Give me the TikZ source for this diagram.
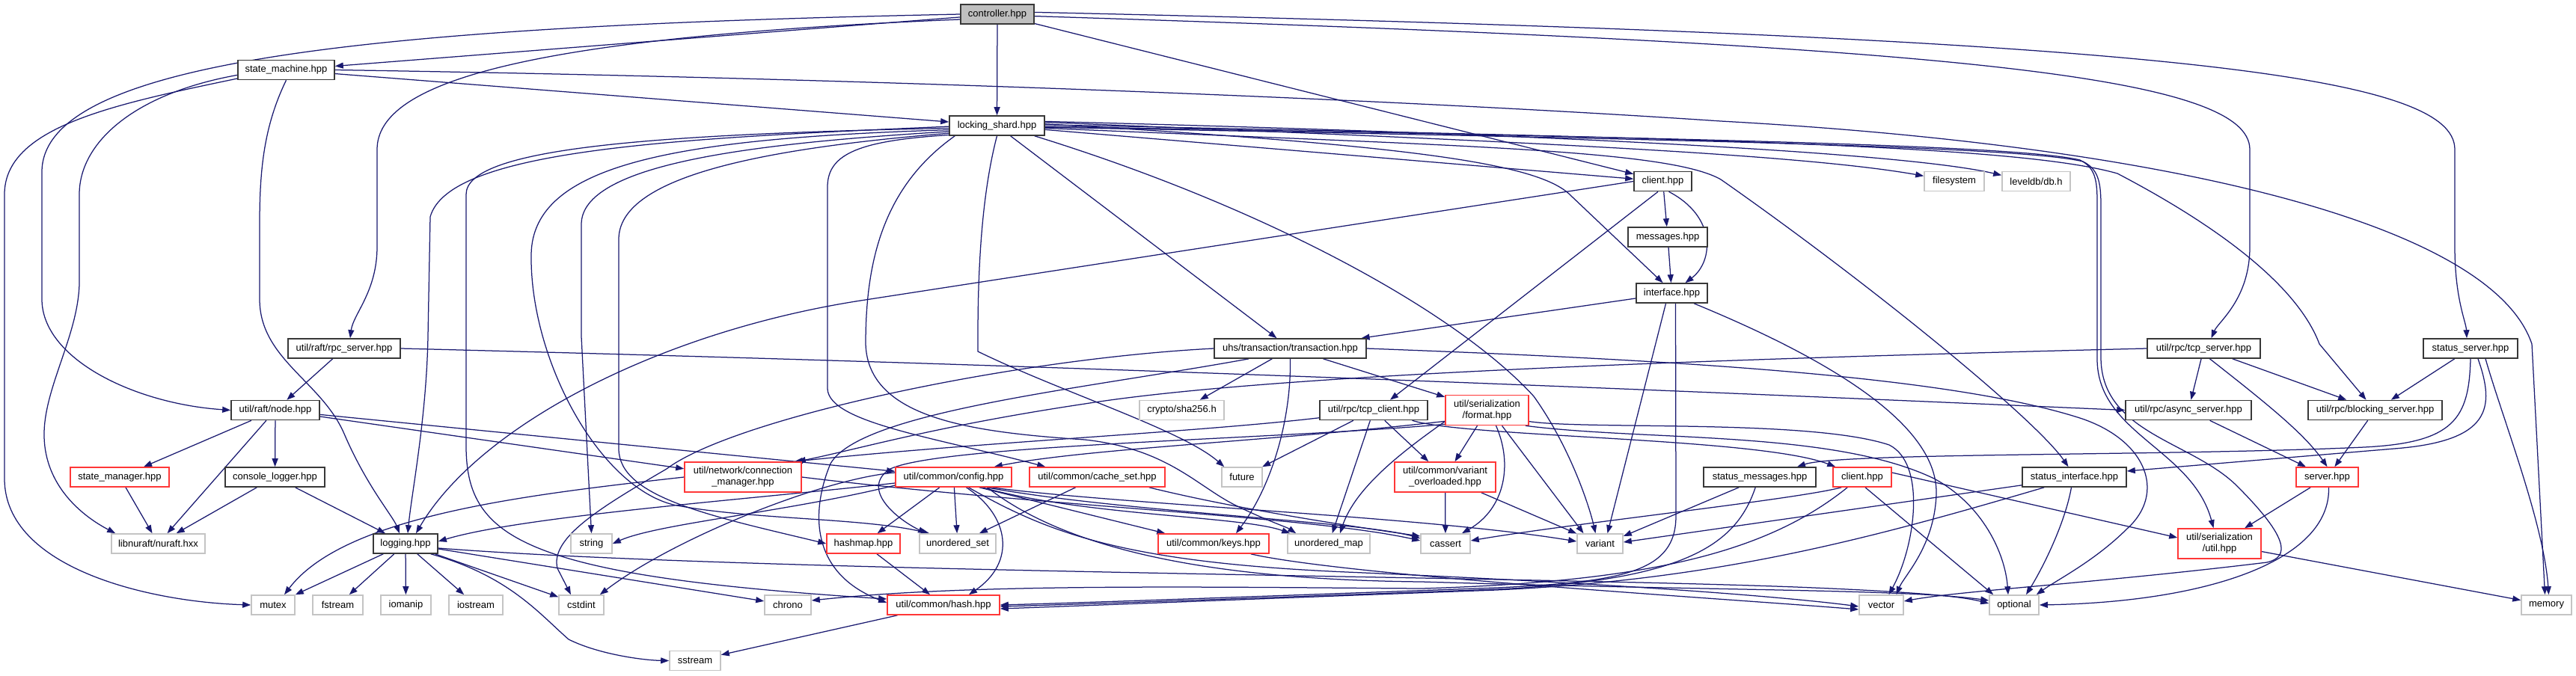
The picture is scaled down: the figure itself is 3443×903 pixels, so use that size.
\documentclass[tikz,border=0pt]{standalone}
\usepackage{fontspec}
\setmainfont{Liberation Sans}
\usetikzlibrary{arrows.meta,calc,backgrounds}
\definecolor{edgeblue}{RGB}{25,25,112}
\definecolor{redb}{RGB}{255,55,55}
\definecolor{grayb}{RGB}{196,196,196}
\definecolor{ctrlfill}{RGB}{191,191,191}
\newcommand\nodefont{\fontsize{13}{15}\selectfont}
\begin{document}
\begin{tikzpicture}[x=1pt,y=-1pt,
  box/.style={draw=black!78, line width=1.6pt, fill=white, minimum height=26pt, inner sep=0pt, font=\nodefont, align=center},
  sys/.style={box, draw=grayb},
  redbox/.style={box, draw=redb},
  tall/.style={minimum height=40pt},
  e/.style={draw=edgeblue, line width=1.25pt, -{Triangle[length=11pt,width=8pt]}}]
\useasboundingbox (0,0) rectangle (3443,903);
% ---------------- nodes ----------------
\node[box, fill=ctrlfill, minimum width=98pt] (ctrl) at (1333,19) {controller.hpp};
\node[box, minimum width=129pt] (sm) at (382.5,93.5) {state\_machine.hpp};
\node[box, minimum width=127pt] (ls) at (1332.5,168) {locking\_shard.hpp};
\node[box, minimum width=77pt] (cliU) at (2222.5,242.5) {client.hpp};
\node[sys, minimum width=80pt] (fs) at (2612,242.5) {filesystem};
\node[sys, minimum width=91pt] (ldb) at (2721.5,242.5) {leveldb/db.h};
\node[box, minimum width=106pt] (msg) at (2229,317) {messages.hpp};
\node[box, minimum width=95pt] (iface) at (2234.5,392) {interface.hpp};
\node[box, minimum width=150pt] (rpc) at (460,466) {util/raft/rpc\_server.hpp};
\node[box, minimum width=203pt] (tx) at (1724.5,466) {uhs/transaction/transaction.hpp};
\node[box, minimum width=151pt] (tcpS) at (2945.5,466) {util/rpc/tcp\_server.hpp};
\node[box, minimum width=126pt] (stS) at (3302,466) {status\_server.hpp};
\node[box, minimum width=118pt] (node) at (368,548.5) {util/raft/node.hpp};
\node[sys, minimum width=113pt] (sha) at (1579.5,548.5) {crypto/sha256.h};
\node[box, minimum width=144pt] (tcpC) at (1836,548.5) {util/rpc/tcp\_client.hpp};
\node[redbox, tall, minimum width=111pt] (fmt) at (1987.5,548.5) {util/serialization\\/format.hpp};
\node[box, minimum width=168pt] (aS) at (2925,548.5) {util/rpc/async\_server.hpp};
\node[box, minimum width=179pt] (bS) at (3174.5,548.5) {util/rpc/blocking\_server.hpp};
\node[redbox, minimum width=132pt] (stm) at (160,638) {state\_manager.hpp};
\node[box, minimum width=133pt] (clog) at (367.5,638) {console\_logger.hpp};
\node[redbox, tall, minimum width=156pt] (cm) at (993,638) {util/network/connection\\\_manager.hpp};
\node[redbox, minimum width=155pt] (cfg) at (1274.5,638) {util/common/config.hpp};
\node[redbox, minimum width=181pt] (cs) at (1466.5,638) {util/common/cache\_set.hpp};
\node[sys, minimum width=54pt] (fut) at (1660,638) {future};
\node[redbox, tall, minimum width=135pt] (vo) at (1931.5,638) {util/common/variant\\\_overloaded.hpp};
\node[box, minimum width=150pt] (sMsg) at (2352,638) {status\_messages.hpp};
\node[redbox, minimum width=78pt] (cliR) at (2489,638) {client.hpp};
\node[box, minimum width=139pt] (sIf) at (2772.5,638) {status\_interface.hpp};
\node[redbox, minimum width=83pt] (srv) at (3110.5,638) {server.hpp};
\node[sys, minimum width=125pt] (nuraft) at (211.5,727) {libnuraft/nuraft.hxx};
\node[box, minimum width=86pt] (log) at (542,727) {logging.hpp};
\node[sys, minimum width=55pt] (str) at (790.5,727) {string};
\node[redbox, minimum width=98pt] (hmap) at (1154,727) {hashmap.hpp};
\node[sys, minimum width=102pt] (uset) at (1280,727) {unordered\_set};
\node[redbox, minimum width=148pt] (keys) at (1622,727) {util/common/keys.hpp};
\node[sys, minimum width=110pt] (umap) at (1776,727) {unordered\_map};
\node[sys, minimum width=66pt] (cas) at (1932,727) {cassert};
\node[sys, minimum width=61pt] (var) at (2138.5,727) {variant};
\node[redbox, tall, minimum width=111pt] (uh) at (2966.5,727) {util/serialization\\/util.hpp};
\node[sys, minimum width=58pt] (mtx) at (365,809) {mutex};
\node[sys, minimum width=67pt] (fst) at (451.5,809) {fstream};
\node[sys, minimum width=67pt] (iom) at (542.5,809) {iomanip};
\node[sys, minimum width=72pt] (ios) at (636,809) {iostream};
\node[sys, minimum width=60pt] (cstd) at (777,809) {cstdint};
\node[sys, minimum width=62pt] (chr) at (1053,809) {chrono};
\node[redbox, minimum width=150pt] (hash) at (1261,809) {util/common/hash.hpp};
\node[sys, minimum width=59pt] (vec) at (2514.5,809) {vector};
\node[sys, minimum width=66pt] (opt) at (2692,809) {optional};
\node[sys, minimum width=67pt] (mem) at (3403.5,809) {memory};
\node[sys, minimum width=68pt] (sstr) at (929,883.5) {sstream};
% ---------------- edges ----------------
\begin{pgfonlayer}{background}
\fill[white] (0,0) rectangle (3443,903);
% controller
\draw[e] (ctrl) -- (sm);
\draw[e] (ctrl) -- (ls);
\draw[e] (ctrl) -- (cliU);
\draw[e] (ctrl.west) .. controls (500,35) and (56,80) .. (56,230) -- (56,400) .. controls (56,480) and (180,540) .. (node.west);
\draw[e] (ctrl.188) .. controls (700,50) and (504,110) .. (504,200) -- (504,330) .. controls (504,390) and (472,420) .. ($(rpc.north)+(8,0)$);
\draw[e] (ctrl.-3) .. controls (2600,60) and (3007,100) .. (3007,200) -- (3007,330) .. controls (3007,400) and (2965,430) .. ($(tcpS.north)+(10,0)$);
\draw[e] (ctrl.3) .. controls (2900,50) and (3281,100) .. (3281,200) -- (3281,330) .. controls (3281,400) and (3296,430) .. ($(stS.north)+(-5,0)$);
% state machine
\draw[e] (sm) -- (ls);
\draw[e] (sm.east) .. controls (1200,105) and (1900,135) .. (2300,162) .. controls (2900,195) and (3330,300) .. (3384,460) -- ($(mem.north)+(-2,0)$);
\draw[e] (sm.south) .. controls (352,170) and (347,230) .. (347,300) -- (347,400) .. controls (347,480) and (430,510) .. (460,580) .. controls (490,650) and (525,690) .. ($(log.north)+(-8,0)$);
\draw[e] (sm.186) .. controls (180,125) and (106,190) .. (106,260) -- (106,380) .. controls (104,450) and (58,520) .. (59,583) .. controls (60,650) and (110,690) .. ($(nuraft.north west)+(6,0)$);
\draw[e] (sm.190) .. controls (150,140) and (6,170) .. (6,260) -- (6,640) .. controls (6,760) and (200,805) .. (mtx.west);
% rpc server, node
\draw[e] (rpc) -- (node);
\draw[e] (rpc.east) .. controls (1500,490) and (2300,525) .. (aS.west);
\draw[e] (node) -- (stm);
\draw[e] (node) -- (nuraft);
\draw[e] (node) -- (clog);
\draw[e] (node) -- (cm);
\draw[e] (node) -- (cfg);
\draw[e] (stm) -- (nuraft);
\draw[e] (clog) -- (nuraft);
\draw[e] (clog) -- (log);
% connection manager
\draw[e] (cm.west) .. controls (700,662) and (460,690) .. ($(mtx.north)+(15,0)$);
\draw[e] (cm.east) .. controls (1400,678) and (1750,690) .. ($(cas.west)+(0,-4)$);
% client (upper)
\draw[e] (cliU) -- (msg);
\draw[e] (cliU.-60) .. controls (2295,290) and (2290,350) .. ($(iface.north)+(18,0)$);
\draw[e] (msg) -- (iface);
\draw[e] (cliU.-115) -- ($(tcpC.north)+(22,0)$);
\draw[e] (cliU.west) -- (1150,402) .. controls (880,444) and (640,570) .. ($(log.north)+(14,0)$);
% locking shard, right side
\draw[e] (ls) -- (cliU);
\draw[e] (ls.2) .. controls (1900,195) and (2060,220) .. (2100,262) -- ($(iface.north)+(-12,0)$);
\draw[e] (ls.4) .. controls (2000,188) and (2400,205) .. (fs.170);
\draw[e] (ls.5) .. controls (2100,180) and (2550,205) .. (ldb.170);
\draw[e] (ls) -- (tx);
\draw[e] (ls.-3) .. controls (1950,195) and (2230,200) .. (2300,240) .. controls (2500,380) and (2720,560) .. ($(sIf.north)+(-8,0)$);
\draw[e] (ls.1) .. controls (2300,185) and (2700,195) .. (2830,232) .. controls (2960,300) and (3070,380) .. (3100,460) -- ($(bS.north)+(-12,0)$);
\draw[e] (ls.-1) .. controls (2300,185) and (2700,195) .. (2780,214) .. controls (2800,224) and (2803,240) .. (2803,270) -- (2803,480) .. controls (2803,580) and (2930,600) .. ($(uh.north)+(-8,0)$);
\draw[e] (ls.-2) .. controls (2300,187) and (2705,197) .. (2784,216) .. controls (2804,226) and (2808,242) .. (2808,275) -- (2808,480) .. controls (2810,580) and (2930,590) .. (2990,650) .. controls (3060,720) and (3060,745) .. (3030,752) .. controls (2800,780) and (2620,790) .. ($(vec.east)+(0,-5)$);
% locking shard, left side
\draw[e] (ls.181) .. controls (900,185) and (600,200) .. (575,290) -- (572,450) .. controls (570,560) and (550,660) .. ($(log.north)+(3,0)$);
\draw[e] (ls.183) .. controls (850,180) and (623,200) .. (623,260) -- (623,600) .. controls (625,720) and (700,770) .. ($(hash.west)+(0,-8)$);
\draw[e] (ls.185) .. controls (900,185) and (712,220) .. (710,340) .. controls (708,480) and (800,650) .. (900,675) .. controls (1000,695) and (1150,692) .. ($(uset.north west)+(14,0)$);
\draw[e] (ls.187) .. controls (1000,192) and (777,220) .. (777,300) -- (777,450) -- (str.north);
\draw[e] (ls.189) .. controls (1000,200) and (827,240) .. (827,320) -- (827,600) .. controls (827,665) and (950,690) .. (hmap.west);
\draw[e] (ls.191) .. controls (1150,188) and (1106,205) .. (1106,250) -- (1106,520) .. controls (1108,565) and (1250,585) .. ($(cs.north west)+(22,0)$);
% locking shard, bottom
\draw[e] (ls.south) .. controls (1312,260) and (1307,360) .. (1307,450) -- (1307,470) .. controls (1420,525) and (1580,575) .. ($(fut.north west)+(4,0)$);
\draw[e] ($(ls.south east)+(-14,0)$) .. controls (1700,280) and (1950,420) .. (2050,530) .. controls (2100,600) and (2125,680) .. ($(var.north)+(-6,0)$);
\draw[e] ($(ls.south west)+(8,0)$) .. controls (1180,250) and (1157,350) .. (1157,460) .. controls (1160,560) and (1300,578) .. (1450,588) .. controls (1560,600) and (1600,650) .. (1650,675) .. controls (1690,695) and (1720,705) .. ($(umap.north west)+(12,0)$);
% transaction
\draw[e] (tx) -- (sha);
\draw[e] (tx) -- (fmt);
\draw[e] (tx.south) .. controls (1726,560) and (1700,650) .. ($(keys.north)+(30,0)$);
\draw[e] (tx.west) .. controls (1350,480) and (980,560) .. (891,627) .. controls (800,680) and (735,720) .. (745,760) -- ($(cstd.north)+(-14,0)$);
\draw[e] ($(tx.south west)+(47,0)$) .. controls (1450,520) and (1150,550) .. (1110,620) .. controls (1085,680) and (1080,765) .. ($(hash.west)+(0,-3)$);
\draw[e] (tx.east) .. controls (2200,480) and (2600,500) .. (2783,560) .. controls (2870,590) and (2895,660) .. (2843,707) .. controls (2800,750) and (2750,775) .. ($(opt.north east)+(-4,0)$);
% rpc servers
\draw[e] (tcpS) -- (aS);
\draw[e] (tcpS) -- (bS);
\draw[e] (tcpS.-60) .. controls (3030,540) and (3080,580) .. (srv.north);
\draw[e] (tcpS.west) .. controls (2300,480) and (1700,500) .. (1450,540) .. controls (1250,570) and (1150,600) .. ($(cm.north east)+(-6,0)$);
\draw[e] (stS) -- (bS);
\draw[e] ($(stS.south)+(20,0)$) .. controls (3345,560) and (3400,700) .. ($(mem.north)+(3,0)$);
\draw[e] (stS.south) .. controls (3300,560) and (3280,592) .. (3160,598) .. controls (2900,610) and (2460,605) .. ($(sMsg.north)+(50,0)$);
\draw[e] ($(stS.south)+(10,0)$) .. controls (3335,545) and (3330,590) .. (3200,600) -- ($(sIf.east)+(0,-8)$);
\draw[e] (aS) -- (srv);
\draw[e] (bS) -- (srv);
% tcp client
\draw[e] (tcpC.188) .. controls (1600,578) and (1300,592) .. ($(cm.north east)+(-10,0)$);
\draw[e] (tcpC.-15) .. controls (1960,585) and (2350,585) .. ($(cliR.north west)+(4,0)$);
\draw[e] (tcpC) -- (fut);
\draw[e] (tcpC) -- (umap);
\draw[e] (tcpC) -- (vo);
% format
\draw[e] (fmt) -- (vo);
\draw[e] ($(fmt.south)+(12,0)$) .. controls (2022,620) and (2012,680) .. ($(cas.north)+(22,0)$);
\draw[e] ($(fmt.south)+(20,0)$) -- ($(var.north)+(-22,0)$);
\draw[e] (fmt.-165) .. controls (1880,600) and (1812,650) .. ($(umap.north)+(15,0)$);
\draw[e] (fmt.-15) .. controls (2120,575) and (2420,560) .. (2525,595) .. controls (2575,620) and (2560,730) .. ($(vec.north)+(10,0)$);
\draw[e] (fmt.-22) .. controls (2200,590) and (2450,575) .. (2585,640) .. controls (2650,675) and (2680,740) .. ($(opt.north)+(-8,0)$);
\draw[e] ($(fmt.south west)+(0,-6)$) .. controls (1700,590) and (1450,600) .. ($(cfg.north east)+(-24,0)$);
\draw[e] ($(fmt.south west)+(0,-2)$) .. controls (1700,588) and (1250,595) .. (1188,628) .. controls (1150,655) and (1200,695) .. ($(uset.north west)+(10,0)$);
% config
\draw[e] ($(cfg.west)+(0,8)$) .. controls (1000,668) and (700,690) .. ($(log.east)+(0,-3)$);
\draw[e] ($(cfg.west)+(0,11)$) .. controls (1050,685) and (880,700) .. (str.east);
\draw[e] ($(cfg.west)+(0,-6)$) .. controls (1100,640) and (900,720) .. ($(cstd.north east)+(-6,0)$);
\draw[e] (cfg) -- (hmap);
\draw[e] (cfg) -- (uset);
\draw[e] ($(cfg.south)+(17,0)$) .. controls (1350,690) and (1358,752) .. ($(hash.north)+(34,0)$);
\draw[e] ($(cfg.south east)+(-44,0)$) -- ($(keys.north west)+(10,0)$);
\draw[e] ($(cfg.south east)+(-40,0)$) .. controls (1450,690) and (1660,690) .. ($(umap.north west)+(4,0)$);
\draw[e] ($(cfg.south east)+(-34,0)$) .. controls (1500,685) and (1820,697) .. ($(cas.west)+(0,-7)$);
\draw[e] ($(cfg.south east)+(-28,0)$) .. controls (1500,675) and (1900,690) .. ($(var.west)+(0,-3)$);
\draw[e] ($(cfg.south)+(20,0)$) .. controls (1400,712) and (1500,752) .. (1800,765) .. controls (2200,782) and (2400,800) .. ($(vec.west)+(0,2)$);
\draw[e] ($(cfg.south)+(45,0)$) .. controls (1420,730) and (1600,775) .. (1900,778) .. controls (2300,790) and (2550,788) .. ($(opt.west)+(0,-6)$);
% cache set, variant overloaded, hashmap, keys, hash
\draw[e] (cs) -- (uset);
\draw[e] ($(cs.south east)+(-22,0)$) .. controls (1650,680) and (1800,703) .. ($(cas.west)+(0,-10)$);
\draw[e] (vo) -- (cas);
\draw[e] (vo) -- (var);
\draw[e] (hmap) -- (hash);
\draw[e] ($(keys.south east)+(-25,0)$) .. controls (1800,770) and (2300,800) .. ($(vec.west)+(0,6)$);
\draw[e] (hash) -- (sstr);
% logging
\draw[e] (log) -- (mtx);
\draw[e] (log) -- (fst);
\draw[e] (log) -- (iom);
\draw[e] (log) -- (ios);
\draw[e] (log) -- (cstd);
\draw[e] (log) -- (chr);
\draw[e] ($(log.south east)+(-10,0)$) .. controls (680,770) and (720,820) .. (760,855) .. controls (800,875) and (860,883) .. (sstr.west);
\draw[e] ($(log.east)+(0,6)$) .. controls (1000,765) and (2000,770) .. (2400,785) .. controls (2550,791) and (2620,797) .. ($(opt.west)+(0,-2)$);
% interface
\draw[e] (iface) -- (tx);
\draw[e] ($(iface.south)+(-8,0)$) -- ($(var.north)+(10,0)$);
\draw[e] ($(iface.south)+(5,0)$) -- (2240,690) .. controls (2240,765) and (2170,778) .. (2000,786) .. controls (1700,797) and (1450,806) .. (hash.east);
\draw[e] (iface.-25) .. controls (2420,470) and (2590,560) .. (2588,660) .. controls (2586,730) and (2545,770) .. ($(vec.north)+(20,0)$);
% client (red)
\draw[e] ($(cliR.east)+(0,-6)$) -- ($(uh.west)+(0,-8)$);
\draw[e] ($(cliR.south)+(4,0)$) -- ($(opt.north west)+(6,0)$);
\draw[e] ($(cliR.south west)+(12,0)$) .. controls (2400,668) and (2100,700) .. ($(cas.east)+(0,-4)$);
\draw[e] ($(cliR.south west)+(20,0)$) .. controls (2360,740) and (2200,778) .. (1900,787) .. controls (1600,785) and (1300,780) .. ($(chr.east)+(0,-6)$);
% status messages / interface
\draw[e] ($(sMsg.south west)+(48,0)$) -- ($(var.east)+(0,-10)$);
\draw[e] ($(sMsg.south west)+(70,0)$) .. controls (2320,730) and (2250,776) .. (2000,788) .. controls (1700,799) and (1450,808) .. ($(hash.east)+(0,2)$);
\draw[e] ($(sIf.south west)+(0,-3)$) -- ($(var.east)+(0,-2)$);
\draw[e] ($(sIf.south west)+(30,0)$) .. controls (2500,720) and (2300,775) .. (2000,789) .. controls (1700,800) and (1450,810) .. ($(hash.east)+(0,5)$);
\draw[e] ($(sIf.south)+(-4,0)$) .. controls (2760,700) and (2730,760) .. ($(opt.north)+(16,0)$);
% server, util
\draw[e] (srv) -- (uh);
\draw[e] ($(srv.south)+(2,0)$) .. controls (3115,750) and (2950,805) .. (opt.east);
\draw[e] (uh) -- (mem);
\end{pgfonlayer}
\end{tikzpicture}
\end{document}
